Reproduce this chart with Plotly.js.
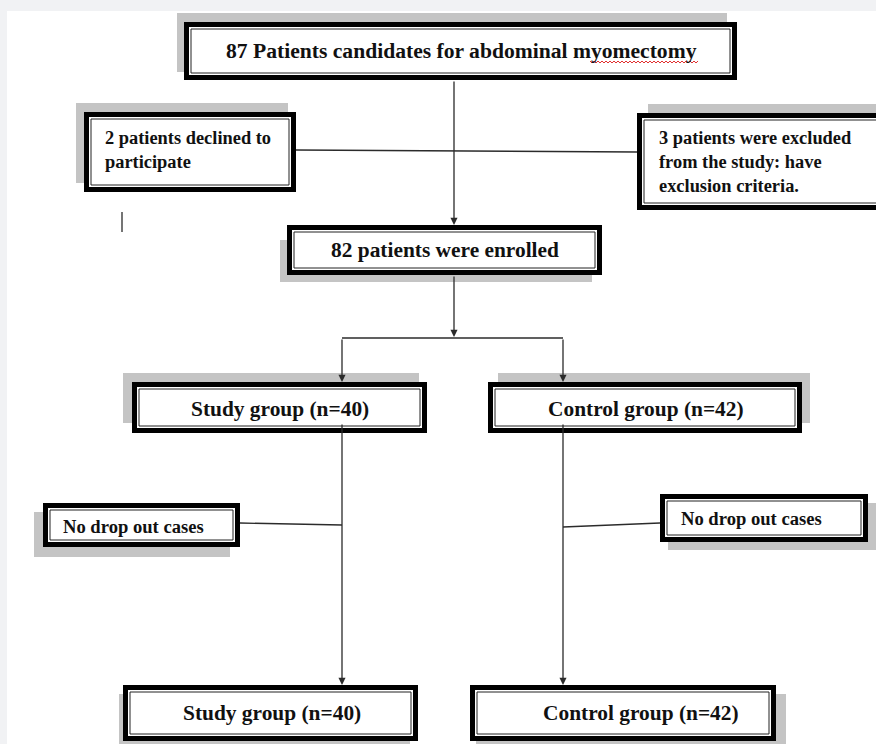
<!DOCTYPE html>
<html>
<head>
<meta charset="utf-8">
<script src="https://cdn.plot.ly/plotly-3.0.1.min.js"></script>
<style>html,body{margin:0;padding:0;background:#f1f2f4;}#chart{width:876px;height:744px;}</style>
</head>
<body>
<div id="chart"></div>
<script>
// ---- Flow counts (data) ----
const candidates = 87;
const declined = 2;
const excluded = 3;
const enrolled = 82;
const studyN = 40;
const controlN = 42;
const dropouts = [0, 0];

// ---- Node labels ----
const nodeLabels = [
  candidates + ' Patients candidates for abdominal myomectomy',
  declined + ' patients declined to<br>participate',
  excluded + ' patients were excluded<br>from the study: have<br>exclusion criteria.',
  enrolled + ' patients were enrolled',
  'Study group (n=' + studyN + ')',
  'Control group (n=' + controlN + ')',
  dropouts[0] === 0 ? 'No drop out cases' : dropouts[0] + ' drop out cases',
  dropouts[1] === 0 ? 'No drop out cases' : dropouts[1] + ' drop out cases',
  'Study group (n=' + (studyN - dropouts[0]) + ')',
  'Control group (n=' + (controlN - dropouts[1]) + ')'
];

// ---- Layout geometry (positions / styles, not data) ----
const boxes = [
  {b:[184,22,737,80],  s:[177,13,727,72],  tx:461, ty:51,  anchor:'center', size:21.6},
  {b:[84,112,296,192], s:[76,103,288,183], tx:103, ty:150, anchor:'left',   size:18.4},
  {b:[637,113,884,210],s:[648,104,884,200],tx:657, ty:162, anchor:'left',   size:18.4},
  {b:[287,225,602,275],s:[280,240,592,282],tx:445, ty:250, anchor:'center', size:21.4},
  {b:[132,382,427,433],s:[123,373,419,423],tx:280, ty:409, anchor:'center', size:21.4},
  {b:[488,382,802,433],s:[498,373,810,423],tx:646, ty:409, anchor:'center', size:21.4},
  {b:[43,503,240,547], s:[34,512,230,557], tx:61,  ty:526, anchor:'left',   size:18.6},
  {b:[660,494,868,542],s:[668,503,884,550],tx:679, ty:518, anchor:'left',   size:18.6},
  {b:[123,685,418,741],s:[119,694,410,752],tx:272, ty:713, anchor:'center', size:21.4},
  {b:[470,685,776,741],s:[476,694,786,752],tx:641, ty:713, anchor:'center', size:21.4}
];

const LINE = '#2b2b2b';
const shapes = [];
shapes.push({type:'rect', xref:'x', yref:'y', x0:7, y0:11, x1:880, y1:750, fillcolor:'#ffffff', line:{width:0}, layer:'below'});

boxes.forEach(bx => {
  const [s0,s1,s2,s3] = bx.s;
  shapes.push({type:'rect', xref:'x', yref:'y', x0:s0, y0:s1, x1:s2, y1:s3, fillcolor:'#c4c4c4', line:{width:0}});
});

const lines = [
  [296,150,637,152],
  [342,338,563,338],
  [240,523,342,525],
  [563,527,660,523],
  [122,212,122,232]
];
lines.forEach(l => shapes.push({type:'line', xref:'x', yref:'y', x0:l[0], y0:l[1], x1:l[2], y1:l[3], line:{color:LINE, width:1.3}}));

boxes.forEach(bx => {
  const [x0,y0,x1,y1] = bx.b;
  const t = 5;
  shapes.push({type:'rect', xref:'x', yref:'y', x0:x0, y0:y0, x1:x1, y1:y1, fillcolor:'#000000', line:{width:0}});
  shapes.push({type:'rect', xref:'x', yref:'y', x0:x0+t, y0:y0+t, x1:x1-t, y1:y1-t, fillcolor:'#ffffff', line:{width:0}});
  shapes.push({type:'rect', xref:'x', yref:'y', x0:x0+t+2, y0:y0+t+2, x1:x1-t-2, y1:y1-t-2, fillcolor:'rgba(0,0,0,0)', line:{color:'#222', width:1}});
});

let sq = 'M 590 61';
for (let x = 590, k = 0; x < 697; x += 2, k++) { sq += ' L ' + (x+2) + ' ' + (k % 2 ? 61 : 63); }
shapes.push({type:'path', xref:'x', yref:'y', path:sq, line:{color:'#e03030', width:1}});

const annotations = [];
boxes.forEach((bx, i) => {
  annotations.push({
    xref:'x', yref:'y', x:bx.tx, y:bx.ty, text:'<b>' + nodeLabels[i] + '</b>',
    showarrow:false, xanchor:bx.anchor, yanchor:'middle', align:'left',
    font:{family:'Liberation Serif, "Times New Roman", serif', size:bx.size, color:'#111'}
  });
});

const arrows = [
  [454,80,454,225],
  [454,275,454,337],
  [342,338,342,382],
  [563,338,563,382],
  [342,423,342,685],
  [563,423,563,685]
];
arrows.forEach(a => annotations.push({
  xref:'x', yref:'y', axref:'x', ayref:'y', x:a[2], y:a[3], ax:a[0], ay:a[1],
  text:'', showarrow:true, arrowhead:2, arrowsize:1.1, arrowwidth:1.3, arrowcolor:LINE, standoff:0
}));

const layout = {
  width:876, height:744,
  margin:{l:0,r:0,t:0,b:0},
  paper_bgcolor:'#f1f2f4', plot_bgcolor:'rgba(0,0,0,0)',
  xaxis:{range:[0,876], visible:false, fixedrange:true},
  yaxis:{range:[744,0], visible:false, fixedrange:true},
  showlegend:false,
  shapes:shapes, annotations:annotations
};

Plotly.newPlot('chart', [{x:[], y:[], type:'scatter', mode:'markers', hoverinfo:'skip'}], layout, {displayModeBar:false, staticPlot:true});
</script>
</body>
</html>
